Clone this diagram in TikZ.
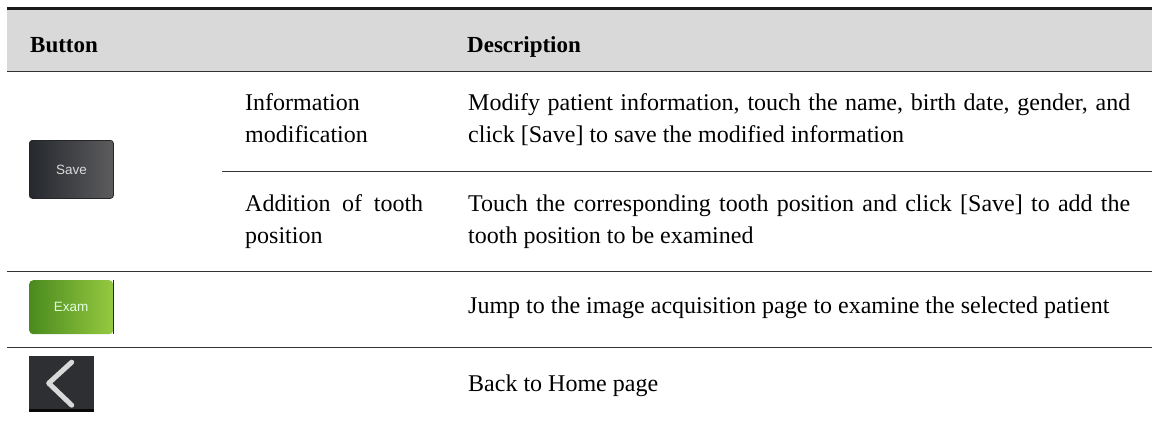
\documentclass[tikz,border=0pt]{standalone}
\usepackage{fontspec}
\setmainfont{Liberation Serif}
\newfontfamily\uifont{Liberation Sans}
\usetikzlibrary{calc}
\definecolor{headgray}{HTML}{D9D9D9}
\definecolor{rulegray}{HTML}{333333}
\definecolor{btndarkL}{HTML}{25282D}
\definecolor{btndarkR}{HTML}{5C5C5E}
\definecolor{examL}{HTML}{4A8A1E}
\definecolor{examR}{HTML}{95C940}
\definecolor{backbg}{HTML}{2E2F33}
\tikzset{
  cell/.style={inner sep=0pt, anchor=base west, font=\fontsize{24}{32}\selectfont},
  head/.style={inner sep=0pt, anchor=base west, font=\fontsize{23}{32}\selectfont\bfseries},
  desc/.style={cell, text width=662pt, align=justify},
  sub/.style={cell, text width=178pt, align=justify},
  hrule/.style={draw=rulegray, line width=1.5pt},
  uibtn/.style={inner sep=0pt, anchor=north west, font=\uifont\fontsize{13.5}{15}\selectfont},
}
\begin{document}
\begin{tikzpicture}[x=1pt,y=-1pt]
\useasboundingbox (0,0) rectangle (1152,421);
\hbadness=10000 \hyphenpenalty=10000

% header band with top and bottom rules
\fill[headgray] (7,10) rectangle (1152,71);
\draw[line width=3pt, black!90] (7,8.5) -- (1152,8.5);
\draw[hrule] (7,71.5) -- (1152,71.5);
\node[head] (hbtn) at (30,52) {Button};
\node[head] (hdesc) at (467,52) {Description};

% Save row
\node[uibtn, minimum width=84pt, minimum height=58pt, left color=btndarkL, right color=btndarkR,
      draw=black!85, line width=0.8pt, rounded corners=3pt, text=white!85!black] (save) at (29,140) {Save};
\node[sub] (infomod) at (245,110.7) {Information\linebreak modification};
\node[desc] (infodesc) at (468,110.7) {Modify patient information, touch the name, birth date, gender, and\linebreak click [Save] to save the modified information};
\draw[hrule, line width=1.3pt] (222,171.7) -- (1152,171.7);
\node[sub] (addtooth) at (245,211.7) {Addition of tooth\linebreak position};
\node[desc] (adddesc) at (468,211.7) {Touch the corresponding tooth position and click [Save] to add the\linebreak tooth position to be examined};
\draw[hrule] (7,271.5) -- (1152,271.5);

% Exam row
\node[uibtn, minimum width=84pt, minimum height=54pt, left color=examL, right color=examR,
      rounded corners=4pt, text=green!12!white] (exam) at (29,280) {Exam};
\draw[line width=1.6pt, black!85] (exam.north east) -- (exam.south east);
\node[cell] (examdesc) at (468,313) {Jump to the image acquisition page to examine the selected patient};
\draw[hrule] (7,347.5) -- (1152,347.5);

% Back row
\node[inner sep=0pt, anchor=north west, minimum width=65pt, minimum height=56pt, fill=backbg] (back) at (29,356) {};
\fill[black!80!backbg] (back.south west) rectangle ($(back.south east)+(0,-3)$);
\draw[white!85!black, line width=5pt, line cap=round, line join=round]
  ($(back.center)+(10,-22)$) -- ($(back.center)+(-13,-1)$) -- ($(back.center)+(10,21)$);
\node[cell] (backdesc) at (468,391) {Back to Home page};
\end{tikzpicture}
\end{document}
